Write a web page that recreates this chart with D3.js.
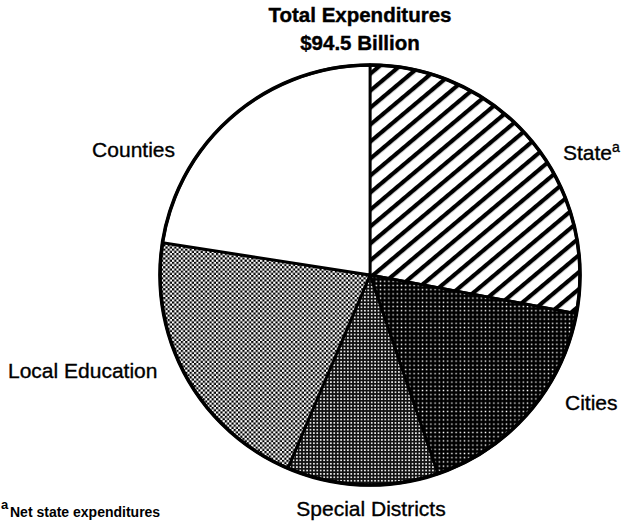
<!DOCTYPE html>
<html>
<head>
<meta charset="utf-8">
<script src="https://cdn.jsdelivr.net/npm/d3@7"></script>
<style>
  html, body { margin: 0; padding: 0; background: #fff; }
  svg { display: block; font-family: "Liberation Sans", Arial, Helvetica, sans-serif; }
</style>
</head>
<body>
<script>
// data (billions of dollars, clockwise from 12 o'clock)
const categories = ["State", "Cities", "Special Districts", "Local Education", "Counties"];
const values = [26.4, 15.9, 11.0, 19.9, 21.3];
const titleLines = ["Total Expenditures", "$94.5 Billion"];
const footnote = "Net state expenditures";

// 1. dimensions
let dimensions = {
  width: 622,
  height: 521,
  cx: 370,
  cy: 275,
  radius: 210,
};

// 2. draw canvas
const svg = d3
  .create("svg")
  .attr("width", dimensions.width)
  .attr("height", dimensions.height);

svg.append("rect")
  .attr("width", dimensions.width)
  .attr("height", dimensions.height)
  .attr("fill", "#fff");

// fill patterns for the slices
const defs = svg.append("defs");

// diagonal hatch
const hatch = defs.append("pattern")
  .attr("id", "hatch")
  .attr("patternUnits", "userSpaceOnUse")
  .attr("width", 13)
  .attr("height", 13)
  .attr("patternTransform", "rotate(-40)");
hatch.append("rect").attr("width", 13).attr("height", 13).attr("fill", "#fff");
hatch.append("rect").attr("y", 0).attr("width", 13).attr("height", 4.2).attr("fill", "#000");

// dark dots (cities)
const darkDots = defs.append("pattern")
  .attr("id", "darkDots")
  .attr("patternUnits", "userSpaceOnUse")
  .attr("width", 4.2)
  .attr("height", 4.2);
darkDots.append("rect").attr("width", 4.2).attr("height", 4.2).attr("fill", "#000");
darkDots.append("rect").attr("x", 1.4).attr("y", 1.4).attr("width", 1.4).attr("height", 1.4).attr("fill", "#fff");

// medium dots (special districts)
const midDots = defs.append("pattern")
  .attr("id", "midDots")
  .attr("patternUnits", "userSpaceOnUse")
  .attr("width", 3.4)
  .attr("height", 3.4);
midDots.append("rect").attr("width", 3.4).attr("height", 3.4).attr("fill", "#111");
midDots.append("rect").attr("x", 0.9).attr("y", 0.9).attr("width", 1.6).attr("height", 1.6).attr("fill", "#fff");

// checkerboard (local education)
const checker = defs.append("pattern")
  .attr("id", "checker")
  .attr("patternUnits", "userSpaceOnUse")
  .attr("width", 4.4)
  .attr("height", 4.4);
checker.append("rect").attr("width", 4.4).attr("height", 4.4).attr("fill", "#fff");
checker.append("rect").attr("width", 2.2).attr("height", 2.2).attr("fill", "#000");
checker.append("rect").attr("x", 2.2).attr("y", 2.2).attr("width", 2.2).attr("height", 2.2).attr("fill", "#000");

const fillFor = {
  "State": "url(#hatch)",
  "Cities": "url(#darkDots)",
  "Special Districts": "url(#midDots)",
  "Local Education": "url(#checker)",
  "Counties": "#fff",
};

// 3. pie layout
const dataset = categories.map((c, i) => ({ name: c, value: values[i] }));

const pie = d3.pie()
  .sort(null)
  .value((d) => d.value)
  .startAngle(0)
  .endAngle(2 * Math.PI);

const arc = d3.arc()
  .innerRadius(0)
  .outerRadius(dimensions.radius);

const bounds = svg.append("g")
  .attr("transform", `translate(${dimensions.cx},${dimensions.cy})`);

bounds.selectAll(".slice")
  .data(pie(dataset))
  .join("path")
  .attr("class", "slice")
  .attr("d", arc)
  .attr("fill", (d) => fillFor[d.data.name])
  .attr("stroke", "#000")
  .attr("stroke-width", 2.8)
  .attr("stroke-linejoin", "round");

// outer rim
bounds.append("circle")
  .attr("r", dimensions.radius)
  .attr("fill", "none")
  .attr("stroke", "#000")
  .attr("stroke-width", 3.6);

// 4. title
const title = svg.append("text")
  .attr("text-anchor", "middle")
  .attr("font-weight", "bold")
  .attr("font-size", 20.5)
  .attr("fill", "#000")
  .attr("stroke", "#000")
  .attr("stroke-width", 0.4);
title.selectAll("tspan")
  .data(titleLines)
  .join("tspan")
  .attr("x", 360)
  .attr("y", (d, i) => 22 + i * 28)
  .text((d) => d);

// 5. slice labels
const labelLayout = {
  "State": { x: 563, y: 160, anchor: "start" },
  "Cities": { x: 565, y: 410, anchor: "start" },
  "Special Districts": { x: 371, y: 516, anchor: "middle" },
  "Local Education": { x: 8, y: 378, anchor: "start" },
  "Counties": { x: 175, y: 157, anchor: "end" },
};

const labels = svg.append("g")
  .attr("font-size", 21)
  .attr("fill", "#000")
  .attr("stroke", "#000")
  .attr("stroke-width", 0.35);

labels.selectAll("text")
  .data(categories)
  .join("text")
  .attr("x", (d) => labelLayout[d].x)
  .attr("y", (d) => labelLayout[d].y)
  .attr("text-anchor", (d) => labelLayout[d].anchor)
  .each(function (d) {
    const t = d3.select(this);
    t.append("tspan").text(d);
    if (d === "State") {
      t.append("tspan")
        .attr("font-size", 14)
        .attr("dy", -8)
        .text("a");
    }
  });

// 6. footnote
const note = svg.append("text")
  .attr("font-weight", "bold")
  .attr("fill", "#000");
note.append("tspan")
  .attr("x", 1)
  .attr("y", 509)
  .attr("font-size", 13)
  .text("a");
note.append("tspan")
  .attr("x", 10)
  .attr("y", 517)
  .attr("font-size", 14)
  .text(footnote);

document.body.appendChild(svg.node());
</script>
</body>
</html>
